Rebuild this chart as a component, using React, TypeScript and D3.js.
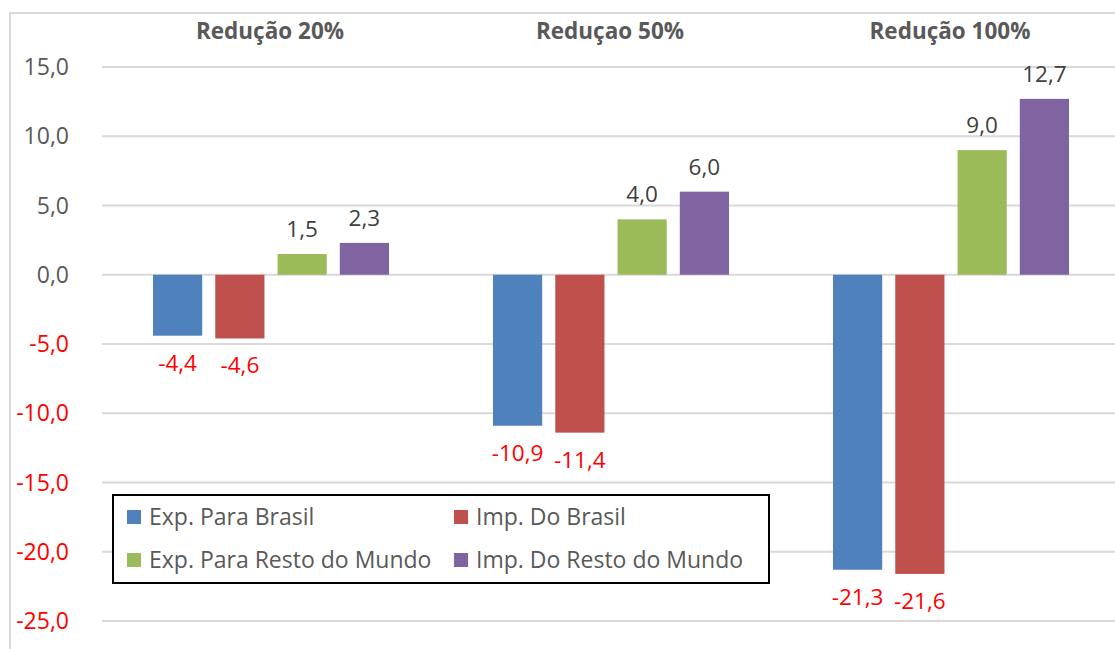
import React from 'react';
import * as d3 from 'd3';

// chart values
const groups = ['Redução 20%', 'Reduçao 50%', 'Redução 100%'];
const seriesNames = ['Exp. Para Brasil', 'Imp. Do Brasil', 'Exp. Para Resto do Mundo', 'Imp. Do Resto do Mundo'];
const expBrasil = [-4.4, -10.9, -21.3];
const impBrasil = [-4.6, -11.4, -21.6];
const expResto = [1.5, 4.0, 9.0];
const impResto = [2.3, 6.0, 12.7];
const yTicks = [15, 10, 5, 0, -5, -10, -15, -20, -25];
const colors = ['#4F81BD', '#C0504D', '#9BBB59', '#8064A2'];

const W = 1115;
const H = 649;
const font = '"Open Sans", Lato, sans-serif';
const fmt = (v: number) => v.toFixed(1).replace('.', ',');

const App = () => {
    const allSeries = [expBrasil, impBrasil, expResto, impResto];

    const x0 = d3.scaleBand().domain(groups).range([101, 1121]).padding(0);
    const x1 = d3.scaleBand().domain(seriesNames).range([52, 288]).paddingInner(0.21).paddingOuter(0);
    const y = d3.scaleLinear().domain([-25, 15]).range([621, 67]);

    return (
        <svg width={W} height={H} style={{ position: 'absolute', left: 0, top: 0, background: '#fff' }}>
            {/* outer frame */}
            <rect x={10} y={13} width={W + 20} height={H + 20} fill="none" stroke="#d9d9d9" strokeWidth={2} />

            {/* gridlines + y labels */}
            {yTicks.map(t => (
                <g key={t}>
                    <line x1={102} x2={W} y1={y(t)} y2={y(t)} stroke="#d9d9d9" strokeWidth={2} />
                    <text x={69} y={y(t)} dy="0.35em" textAnchor="end" fontFamily={font} fontSize={23}
                        fill={t < 0 ? '#FF0000' : '#595959'}>{fmt(t)}</text>
                </g>
            ))}

            {/* group titles */}
            {groups.map(g => (
                <text key={g} x={x0(g)! + x0.bandwidth() / 2 - 1} y={31} dy="0.35em" textAnchor="middle"
                    fontFamily={font} fontSize={22.5} fontWeight="bold" fill="#595959">{g}</text>
            ))}

            {/* bars + labels */}
            {groups.map((g, gi) => (
                <g key={g} transform={`translate(${x0(g)},0)`}>
                    {seriesNames.map((s, si) => {
                        const v = allSeries[si][gi];
                        const bx = x1(s)!;
                        const top = y(Math.max(0, v));
                        const h = Math.abs(y(v) - y(0));
                        const cx = bx + x1.bandwidth() / 2;
                        return (
                            <g key={s}>
                                <rect x={bx} y={top} width={x1.bandwidth()} height={h} fill={colors[si]} />
                                <text x={cx} y={v >= 0 ? y(v) - 25 : y(v) + 27} dy="0.35em" textAnchor="middle"
                                    fontFamily={font} fontSize={22.5} fill={v < 0 ? '#FF0000' : '#404040'}>{fmt(v)}</text>
                            </g>
                        );
                    })}
                </g>
            ))}

            {/* legend */}
            <rect x={113} y={495} width={656} height={88} fill="#fff" stroke="#000" strokeWidth={2} />
            {seriesNames.map((s, i) => {
                const lx = i % 2 === 0 ? 127 : 454;
                const ly = i < 2 ? 517 : 560;
                return (
                    <g key={s}>
                        <rect x={lx} y={ly - 7} width={14} height={14} fill={colors[i]} />
                        <text x={lx + 22} y={ly} dy="0.35em" fontFamily={font} fontSize={23} fill="#595959">{s}</text>
                    </g>
                );
            })}
        </svg>
    );
};

export default App;
